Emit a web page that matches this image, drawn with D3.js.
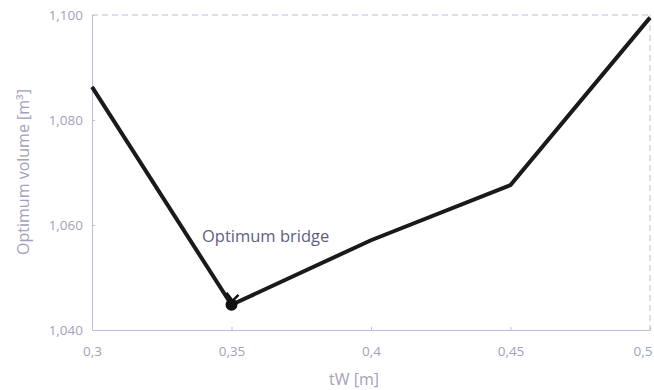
<!DOCTYPE html>
<html><head><meta charset="utf-8">
<script src="https://cdn.jsdelivr.net/npm/d3@7"></script>
<style>body{margin:0;background:#fff}</style>
</head><body>
<svg id="c" width="654" height="390"></svg>
<script>
const tw = [0.3, 0.35, 0.4, 0.45, 0.5];
const volume = [1086.3, 1044.8, 1057.1, 1067.6, 1099.5];
const xTicks = [0.3, 0.35, 0.4, 0.45, 0.5];
const xTickLabels = ["0,3", "0,35", "0,4", "0,45", "0,5"];
const yTicks = [1040, 1060, 1080, 1100];
const yTickLabels = ["1,040", "1,060", "1,080", "1,100"];
const annotation = "Optimum bridge";
const optimumIndex = 1;

const svg = d3.select("#c");
const m = {l: 92, r: 650, t: 15, b: 330};
const x = d3.scaleLinear().domain([0.3, 0.5]).range([m.l, m.r]);
const y = d3.scaleLinear().domain([1040, 1100]).range([m.b, m.t]);
const axisCol = "#bdbddf", textCol = "#a3a1bd";
const font = "'Open Sans', sans-serif";

// frame: top and right dashed
svg.append("line").attr("x1", m.l).attr("x2", m.r).attr("y1", m.t).attr("y2", m.t)
  .attr("stroke", axisCol).attr("stroke-dasharray", "6,4");
svg.append("line").attr("x1", m.r).attr("x2", m.r).attr("y1", m.t).attr("y2", m.b)
  .attr("stroke", axisCol).attr("stroke-dasharray", "6,4");

const xa = svg.append("g").attr("transform", `translate(0,${m.b})`)
  .call(d3.axisBottom(x).tickValues(xTicks).tickFormat((d, i) => xTickLabels[i]).tickSize(-3).tickPadding(16));
const ya = svg.append("g").attr("transform", `translate(${m.l},0)`)
  .call(d3.axisLeft(y).tickValues(yTicks).tickFormat((d, i) => yTickLabels[i]).tickSize(-3).tickPadding(9));
[xa, ya].forEach(a => {
  a.select(".domain").attr("stroke", axisCol);
  a.selectAll(".tick line").attr("stroke", axisCol);
  a.selectAll("text").attr("fill", textCol).style("font-family", font).style("font-size", "13.5px");
});
xa.selectAll(".tick text").filter(d => d === 0.5).attr("text-anchor", "end").attr("x", 2);

svg.append("text").attr("x", 354).attr("y", 385).attr("text-anchor", "middle")
  .attr("fill", textCol).style("font-family", font).style("font-size", "16px").text("tW [m]");
svg.append("text").attr("transform", `translate(29,172) rotate(-90)`).attr("text-anchor", "middle")
  .attr("fill", textCol).style("font-family", font).style("font-size", "16px").text("Optimum volume [m³]");

const line = d3.line().x((d, i) => x(tw[i])).y(d => y(d));
svg.append("path").datum(volume).attr("d", line).attr("fill", "none")
  .attr("stroke", "#1a1a1a").attr("stroke-width", 4).attr("stroke-linejoin", "miter");

const ox = x(tw[optimumIndex]), oy = y(volume[optimumIndex]);
svg.append("circle").attr("cx", ox).attr("cy", oy).attr("r", 6).attr("fill", "#111");
// small arrowhead pointing to optimum
svg.append("path").attr("d", `M${ox - 5},${oy - 12} L${ox + 1},${oy - 4} L${ox + 7},${oy - 10}`)
  .attr("fill", "none").attr("stroke", "#111").attr("stroke-width", 2.5);

svg.append("text").attr("x", 202).attr("y", 242).attr("fill", "#5f5e82")
  .style("font-family", font).style("font-size", "16.5px").text(annotation);
</script>
</body></html>
